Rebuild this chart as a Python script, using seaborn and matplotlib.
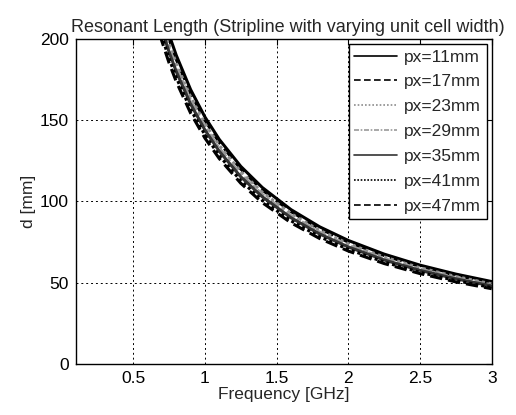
import numpy as np
import pandas as pd
import matplotlib
matplotlib.use("Agg")
import matplotlib.pyplot as plt
import seaborn as sns

# Frequency samples [GHz]
freq = [0.65, 0.7, 0.75, 0.8, 0.9, 1.0, 1.1, 1.25, 1.4, 1.6, 1.8, 2.0, 2.25, 2.5, 2.75, 3.0]

# Resonant length d [mm] for each unit-cell width
px_labels = ["px=11mm", "px=17mm", "px=23mm", "px=29mm", "px=35mm", "px=41mm", "px=47mm"]
d_px11 = [233.8, 217.1, 202.7, 190.0, 168.9, 152.0, 138.2, 121.6, 108.6, 95.0, 84.4, 76.0, 67.6, 60.8, 55.3, 50.7]
d_px17 = [230.8, 214.3, 200.0, 187.5, 166.7, 150.0, 136.4, 120.0, 107.1, 93.8, 83.3, 75.0, 66.7, 60.0, 54.5, 50.0]
d_px23 = [227.7, 211.4, 197.3, 185.0, 164.4, 148.0, 134.5, 118.4, 105.7, 92.5, 82.2, 74.0, 65.8, 59.2, 53.8, 49.3]
d_px29 = [224.6, 208.6, 194.7, 182.5, 162.2, 146.0, 132.7, 116.8, 104.3, 91.3, 81.1, 73.0, 64.9, 58.4, 53.1, 48.7]
d_px35 = [221.5, 205.7, 192.0, 180.0, 160.0, 144.0, 130.9, 115.2, 102.9, 90.0, 80.0, 72.0, 64.0, 57.6, 52.4, 48.0]
d_px41 = [216.9, 201.4, 188.0, 176.3, 156.7, 141.0, 128.2, 112.8, 100.7, 88.1, 78.3, 70.5, 62.7, 56.4, 51.3, 47.0]
d_px47 = [213.8, 198.6, 185.3, 173.8, 154.4, 139.0, 126.4, 111.2, 99.3, 86.9, 77.2, 69.5, 61.8, 55.6, 50.5, 46.3]
series = [d_px11, d_px17, d_px23, d_px29, d_px35, d_px41, d_px47]

x_ticks = [0.5, 1, 1.5, 2, 2.5, 3]
y_ticks = [0, 50, 100, 150, 200]

rows = []
for lab, vals in zip(px_labels, series):
    for f, d in zip(freq, vals):
        rows.append({"freq": f, "d": d, "px": lab})
df = pd.DataFrame(rows)

sns.set_style("white")
plt.rcParams["font.family"] = ["Liberation Sans", "DejaVu Sans"]

FS = 12.5
fig = plt.figure(figsize=(5.16, 4.15), dpi=100)
ax = fig.add_axes([0.147, 0.123, 0.806, 0.783])

styles = [
    dict(color="black", linestyle="-", linewidth=2.2),
    dict(color="black", linestyle=(0, (4, 2)), linewidth=2.2),
    dict(color="0.55", linestyle=(0, (1, 1.2)), linewidth=2.2),
    dict(color="0.6", linestyle=(0, (3, 1, 1, 1)), linewidth=2.2),
    dict(color="0.2", linestyle="-", linewidth=2.2),
    dict(color="black", linestyle=(0, (1, 1)), linewidth=2.2),
    dict(color="black", linestyle=(0, (4, 2)), linewidth=2.2),
]
for lab, st in zip(px_labels, styles):
    sub = df[df["px"] == lab]
    sns.lineplot(data=sub, x="freq", y="d", ax=ax, label=lab, **st)

ax.set_xlim(0.1, 3)
ax.set_ylim(0, 200)
ax.set_xticks(x_ticks)
ax.set_xticklabels(["0.5", "1", "1.5", "2", "2.5", "3"])
ax.set_yticks(y_ticks)
ax.grid(True, color="black", linestyle=(0, (2, 3)), linewidth=0.7)
for s in ax.spines.values():
    s.set_color("black")
    s.set_linewidth(1.0)
ax.tick_params(direction="in", length=4, labelsize=FS, colors="black", width=0.8,
               top=True, right=True, pad=5)
ax.set_xlabel("Frequency [GHz]", fontsize=FS, labelpad=1)
ax.set_ylabel("d [mm]", fontsize=FS, labelpad=3)
ax.set_title("Resonant Length (Stripline with varying unit cell width)", fontsize=13, pad=5, x=0.51)

leg = ax.legend(loc="upper right", fontsize=FS, frameon=True, fancybox=False,
                edgecolor="black", framealpha=1, borderaxespad=0.3,
                handlelength=2.5, labelspacing=0.56, handletextpad=0.4, borderpad=0.3)
leg.get_frame().set_linewidth(1.0)
for h in leg.get_lines():
    h.set_linewidth(1.2)

fig.savefig("out.png", dpi=100)
